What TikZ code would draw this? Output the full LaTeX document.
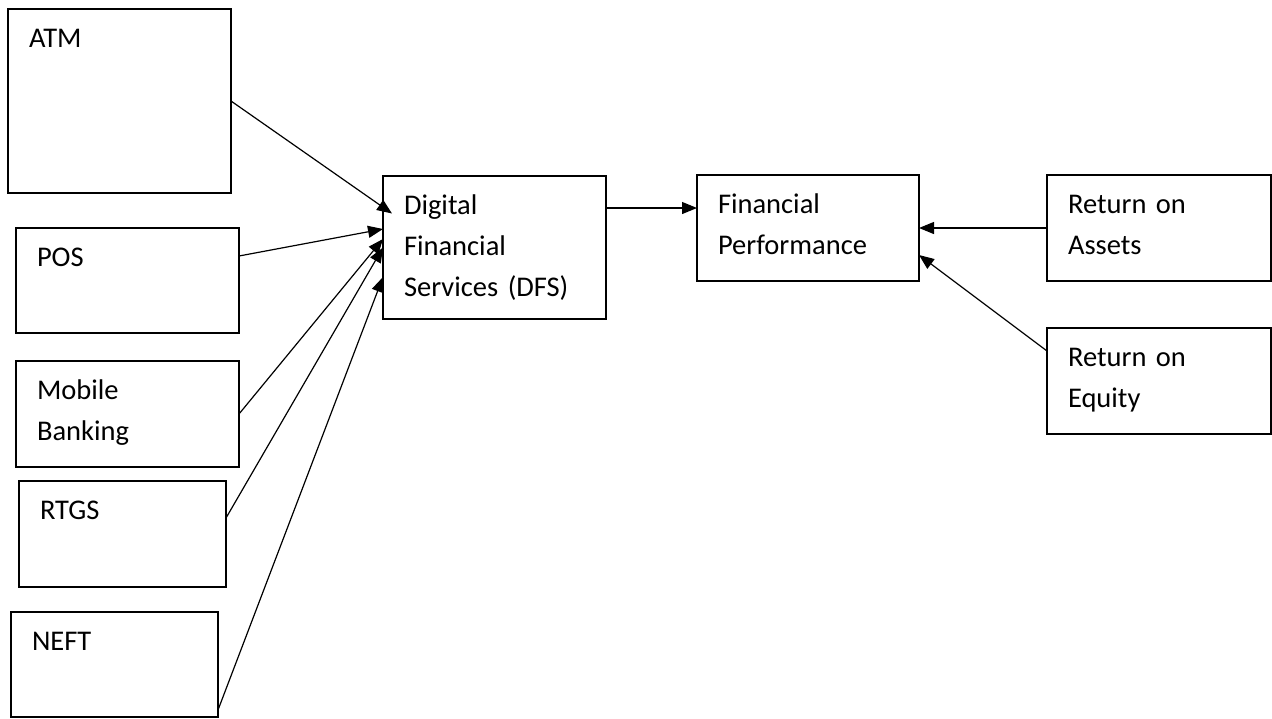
\documentclass[tikz,border=0pt]{standalone}
\usepackage{fontspec}
\setmainfont{Carlito}
\usepackage{tikz}
\usetikzlibrary{positioning}
\usetikzlibrary{arrows.meta}

\begin{document}
\begin{tikzpicture}[
      x=1pt, y=-1pt,
      >={Triangle[length=15pt,width=12pt]},
      box/.style={draw,rectangle,line width=1.2pt,outer sep=0pt,
                  anchor=north west,align=left,
                  inner xsep=21pt,inner ysep=0pt,text height=38pt,
                  font=\fontsize{28.5}{41}\selectfont},
      msg/.style={->, line width=1.2pt}
    ]
    \useasboundingbox (0,0) rectangle (1272,718);

    % Indicators of digital financial services
    \node[box, text width=181pt, text depth=146pt] (atm) at (8,9) {ATM};
    \node[box, text width=181pt, text depth=67pt,
          below right=35pt and 8pt of atm.south west] (pos) {POS};
    \node[box, text width=181pt, text depth=68pt,
          below right=28pt and 0pt of pos.south west] (mobile) {Mobile\\Banking};
    \node[box, text width=165pt, text depth=68pt,
          below right=14pt and 3pt of mobile.south west] (rtgs) {RTGS};
    \node[box, text width=165pt, text depth=67pt,
          below right=25pt and -8pt of rtgs.south west] (neft) {NEFT};

    % Central variables
    \node[box, text width=181pt, text depth=105pt] (dfs) at (383,176)
          {Digital\\Financial\\Services (DFS)};
    \node[box, text width=180pt, text depth=68pt,
          below right=-1pt and 91pt of dfs.north east] (perf) {Financial\\Performance};

    % Measures of performance
    \node[box, text width=182pt, text depth=68pt,
          below right=0pt and 128pt of perf.north east] (roa) {Return on\\Assets};
    \node[box, text width=182pt, text depth=68pt,
          below right=47pt and 0pt of roa.south west] (roe) {Return on\\Equity};

    % Draw connections
    \draw[msg] (atm.east) -- ([xshift=9pt,yshift=34pt]dfs.west);
    \draw[msg] ([yshift=24.5pt]pos.east) -- ([yshift=18.5pt]dfs.west);
    \draw[msg] (mobile.east) -- ([yshift=8.5pt]dfs.west);
    \draw[msg] ([yshift=16pt]rtgs.east) -- (dfs.west);
    \draw[msg] ([yshift=7pt]neft.south east) -- ([yshift=-29.5pt]dfs.west);

    \draw[msg] ([yshift=39.5pt]dfs.east) -- ([yshift=20pt]perf.west);
    \draw[msg] (roa.west) -- (perf.east);
    \draw[msg] ([yshift=30pt]roe.west) -- ([yshift=-27pt]perf.east);

  \end{tikzpicture}
\end{document}
